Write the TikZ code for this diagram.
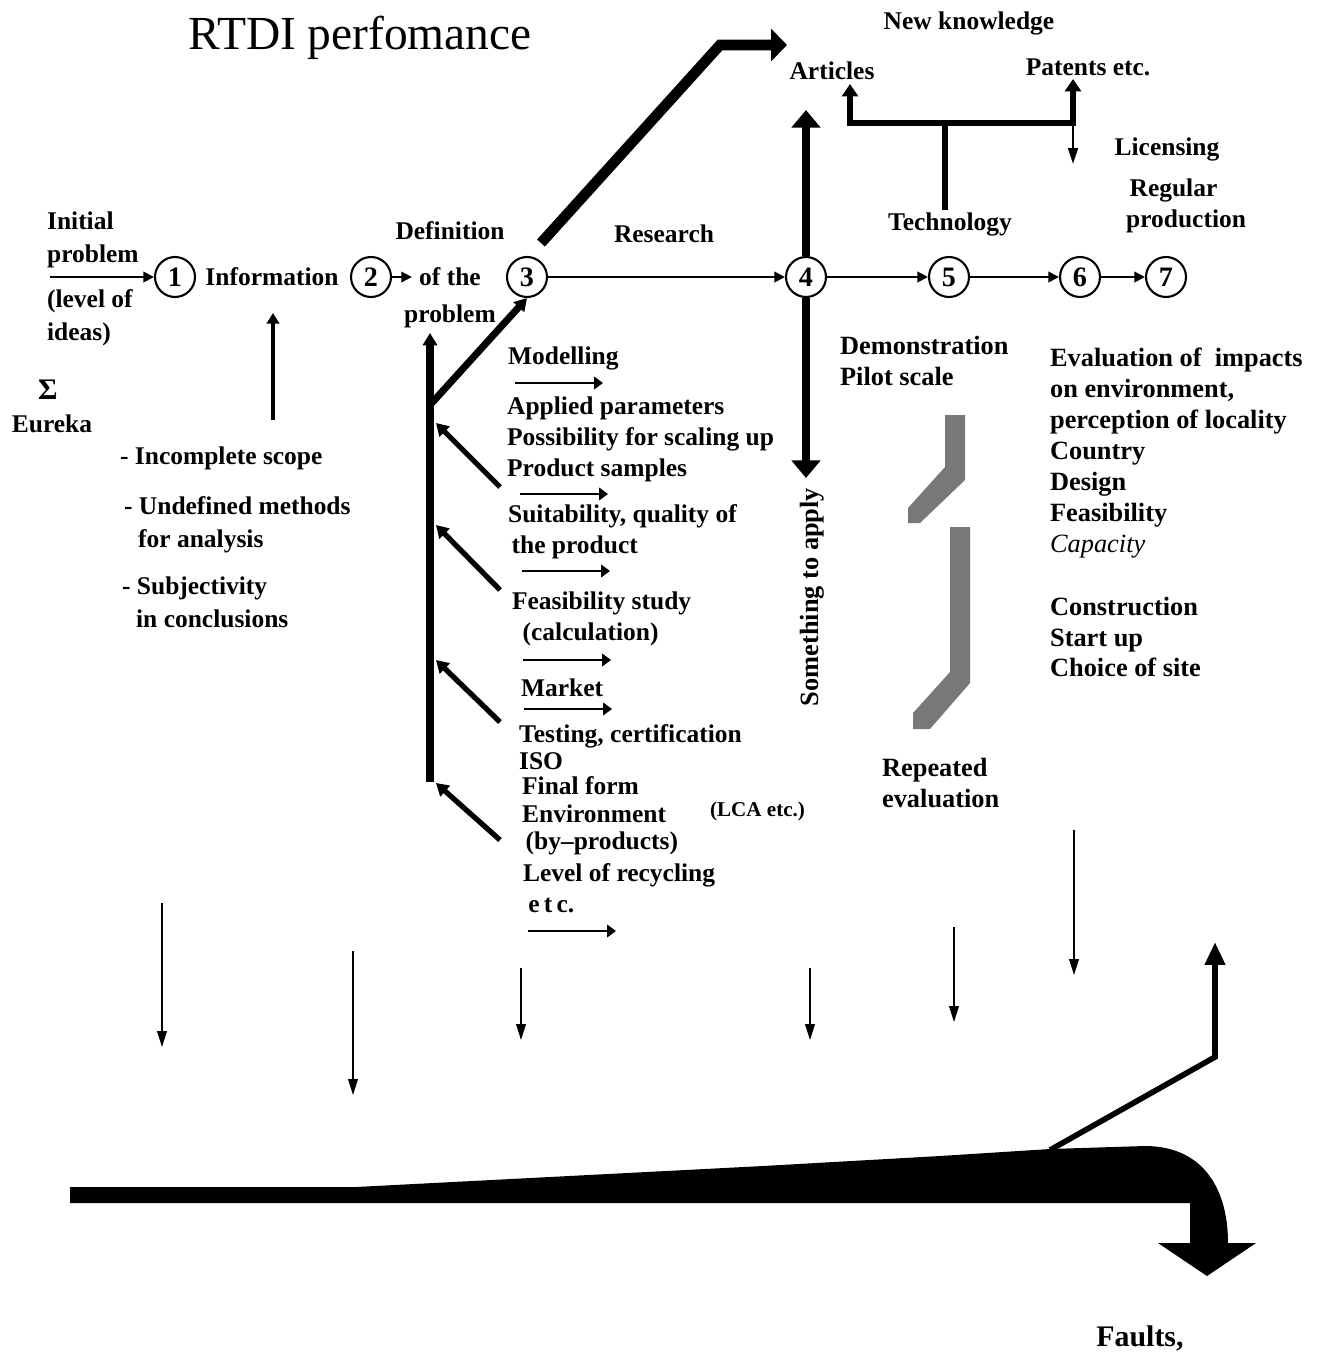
\documentclass[tikz,border=0pt]{standalone}
\usepackage{fontspec}
\setmainfont{Liberation Serif}
\usetikzlibrary{arrows.meta, positioning}
\definecolor{slate}{RGB}{120,120,120}
\newcommand{\lblfont}{\fontsize{14.5}{17.6}\selectfont\bfseries}
\newcommand{\widefont}{\fontsize{15}{17.6}\selectfont\bfseries}
\tikzset{
  lbl/.style={font=\lblfont, inner sep=1pt, align=left},
  wide/.style={font=\widefont, inner sep=1pt, align=left},
  stage/.style={draw, circle, line width=1.2pt, minimum size=0.8cm, inner sep=0pt, fill=white, font=\fontsize{16}{18}\selectfont\bfseries},
  flow/.style={line width=1.1pt, -{Triangle[length=6pt,width=6pt]}},
  heavy/.style={line width=6pt, -{Triangle[length=9pt,width=18pt]}},
  pillar/.style={line width=4.5pt, -{Triangle[length=10pt,width=16pt]}},
  branch/.style={line width=3.4pt},
  rod/.style={line width=4pt, -{Triangle[length=7pt,width=8pt]}},
  feeder/.style={line width=3pt, -{Triangle[length=7pt,width=8pt]}},
  nudge/.style={line width=1.6pt, -{Triangle[length=5pt,width=7pt]}},
  drop/.style={line width=0.8pt, -{Triangle[length=9pt,width=5.5pt]}},
  ghost/.style={fill=slate}
}
\begin{document}
\begin{tikzpicture}[x=0.02cm, y=-0.02cm]
\useasboundingbox (0,0) rectangle (1320,1352);

% title
\node[font=\fontsize{27}{30}\selectfont] (title) at (360,38) {RTDI perfomance};

% main line of stages
\node[stage] (s1) at (175,277) {1};
\node[stage] (s2) at (371,277) {2};
\node[stage] (s3) at (527,277) {3};
\node[stage] (s4) at (806,277) {4};
\node[stage] (s5) at (949,277) {5};
\node[stage] (s6) at (1080,277) {6};
\node[stage] (s7) at (1166,277) {7};

\node[lbl, anchor=west, font=\fontsize{14.5}{18.7}\selectfont\bfseries] (init) at (45,240) {Initial\\problem};
\node[lbl, anchor=west, font=\fontsize{14.5}{18.7}\selectfont\bfseries] (ideas) at (45,318) {(level of\\ideas)};
\node[lbl] (info) at (272,277) {Information};
\node[lbl] (defn) at (450,231) {Definition};
\node[lbl] (ofthe) at (450,277) {of the};
\node[lbl] (probl) at (450,316) {problem};
\node[lbl] (research) at (664,234) {Research};
\node[lbl] (tech) at (950,224) {Technology};
\node[lbl, anchor=west] (regular) at (1124,206) {\hspace{2pt}Regular\\production};
\node[lbl] (licens) at (1167,149) {Licensing};
\node[lbl] (patents) at (1088,67) {Patents etc.};
\node[lbl] (arts) at (832,71) {Articles};
\node[lbl] (newknow) at (969,23) {New knowledge};

\coordinate (in) at (50,277);
\draw[flow] (in) -- (s1);
\draw[flow, shorten >=3pt] (s2) -- (ofthe);
\draw[flow] (s3) -- (s4);
\draw[flow] (s4) -- (s5);
\draw[flow] (s5) -- (s6);
\draw[flow] (s6) -- (s7);

% output to new knowledge
\coordinate (kick) at (541,243);
\coordinate (knowtip) at (787,45);
\draw[heavy] (kick) -- (720,45) -- (knowtip);

% something to apply
\draw[pillar] (s4.north) -- (806,110);
\draw[pillar] (s4.south) -- (806,478);
\node[lbl, rotate=90, font=\widefont] (apply) at (812,597) {Something to apply};

% technology tree
\coordinate (fork) at (945,123);
\draw[branch] (fork |- tech.north) -- (fork);
\draw[branch, -{Triangle[length=7pt,width=9pt]}] (fork) -| (850,84);
\draw[branch, -{Triangle[length=7pt,width=9pt]}] (fork) -| (1073,79);
\draw[drop, line width=1.4pt] (1073,121) -- (1073,164);

% left side
\draw[line width=2.2pt, -{Triangle[length=6pt,width=7pt]}] (273,420) -- (273,313);
\node[lbl, font=\fontsize{17}{20}\selectfont\bfseries] (sigma) at (48,390) {Σ};
\node[lbl] (eureka) at (52,424) {Eureka};
\node[lbl, anchor=west] (scope) at (118,458) {- Incomplete scope};
\node[lbl, anchor=west, font=\fontsize{14.5}{18.7}\selectfont\bfseries] (methods) at (122,525) {- Undefined methods\\\hspace{8pt}for analysis};
\node[lbl, anchor=west, font=\fontsize{14.5}{18.7}\selectfont\bfseries] (subj) at (120,602) {- Subjectivity\\\hspace{8pt}in conclusions};

% definition feedback
\draw[rod] (430,782) -- (430,333);
\draw[rod] (430,405) -- (s3.south);
\foreach \ya/\yb in {487/423, 590/525, 722/660, 840/783}
  \draw[feeder] (500,\ya) -- (436,\yb);
\foreach \xa/\y in {515/383, 520/494, 522/571, 523/660, 524/709, 528/931}
  \draw[nudge] (\xa,\y) -- ++(88,0);

\node[lbl, anchor=west] (modl) at (506,358) {Modelling};
\node[lbl, anchor=west] (params) at (505,439) {Applied parameters\\Possibility for scaling up\\Product samples};
\node[lbl, anchor=west] (suit) at (506,532) {Suitability, quality of\\\hspace{2pt}the product};
\node[lbl, anchor=west] (feas) at (510,619) {Feasibility study\\\hspace{6pt}(calculation)};
\node[lbl, anchor=west] (market) at (519,688) {Market};
\node[lbl, anchor=west, font=\fontsize{14.5}{15.6}\selectfont\bfseries] (testing) at (517,747) {Testing, certification\\ISO};
\node[lbl, anchor=west, font=\fontsize{14.5}{15.6}\selectfont\bfseries] (final) at (520,816) {Final form\\Environment\\\hspace{2pt}(by--products)};
\node[lbl, anchor=west] (recyc) at (521,888) {Level of recycling\\\hspace{3pt}e\,t\,c.};
\node[lbl, anchor=west, font=\fontsize{12}{14}\selectfont\bfseries] (lca) at (708,811) {(LCA etc.)};

% demonstration
\node[wide, anchor=west] (demo) at (838,361) {Demonstration\\Pilot scale};
\fill[ghost] (945,415) -- (965,415) -- (965,480) -- (920,523) -- (908,523) -- (908,508) -- (945,467) -- cycle;
\fill[ghost] (950,527) -- (970,527) -- (970,683) -- (930,729) -- (913,729) -- (913,713) -- (950,672) -- cycle;
\node[wide, anchor=west] (repeat) at (880,783) {Repeated\\evaluation};

% evaluation list
\node[wide, anchor=west] (evalu) at (1048,453) {Evaluation of~ impacts\\on environment,\\perception of locality\\Country\\Design\\Feasibility\\{\mdseries\itshape Capacity}};
\node[wide, anchor=west] (build) at (1048,637) {Construction\\Start up\\Choice of site};

% losses along the way
\foreach \x/\ya/\yb in {162/903/1047, 353/951/1095, 521/968/1040, 810/968/1040, 954/927/1022, 1074/830/975}
  \draw[drop] (\x,\ya) -- (\x,\yb);

\fill (70,1187) -- (356,1187) -- (763,1166) -- (940,1156) -- (1050,1149) -- (1145,1146)
  .. controls (1200,1146) and (1228,1185) .. (1228,1243) -- (1256,1243) -- (1207,1276)
  -- (1158,1243) -- (1190,1243) -- (1190,1203) -- (70,1203) -- cycle;
\coordinate (rise) at (1050,1150);
\coordinate (risetip) at (1215,942);
\draw[line width=3.2pt, -{Triangle[length=13pt,width=11pt]}] (rise) -- (1215,1057) -- (risetip);
\node[lbl, font=\fontsize{17}{20}\selectfont\bfseries] (faults) at (1140,1338) {Faults,};
\end{tikzpicture}
\end{document}
